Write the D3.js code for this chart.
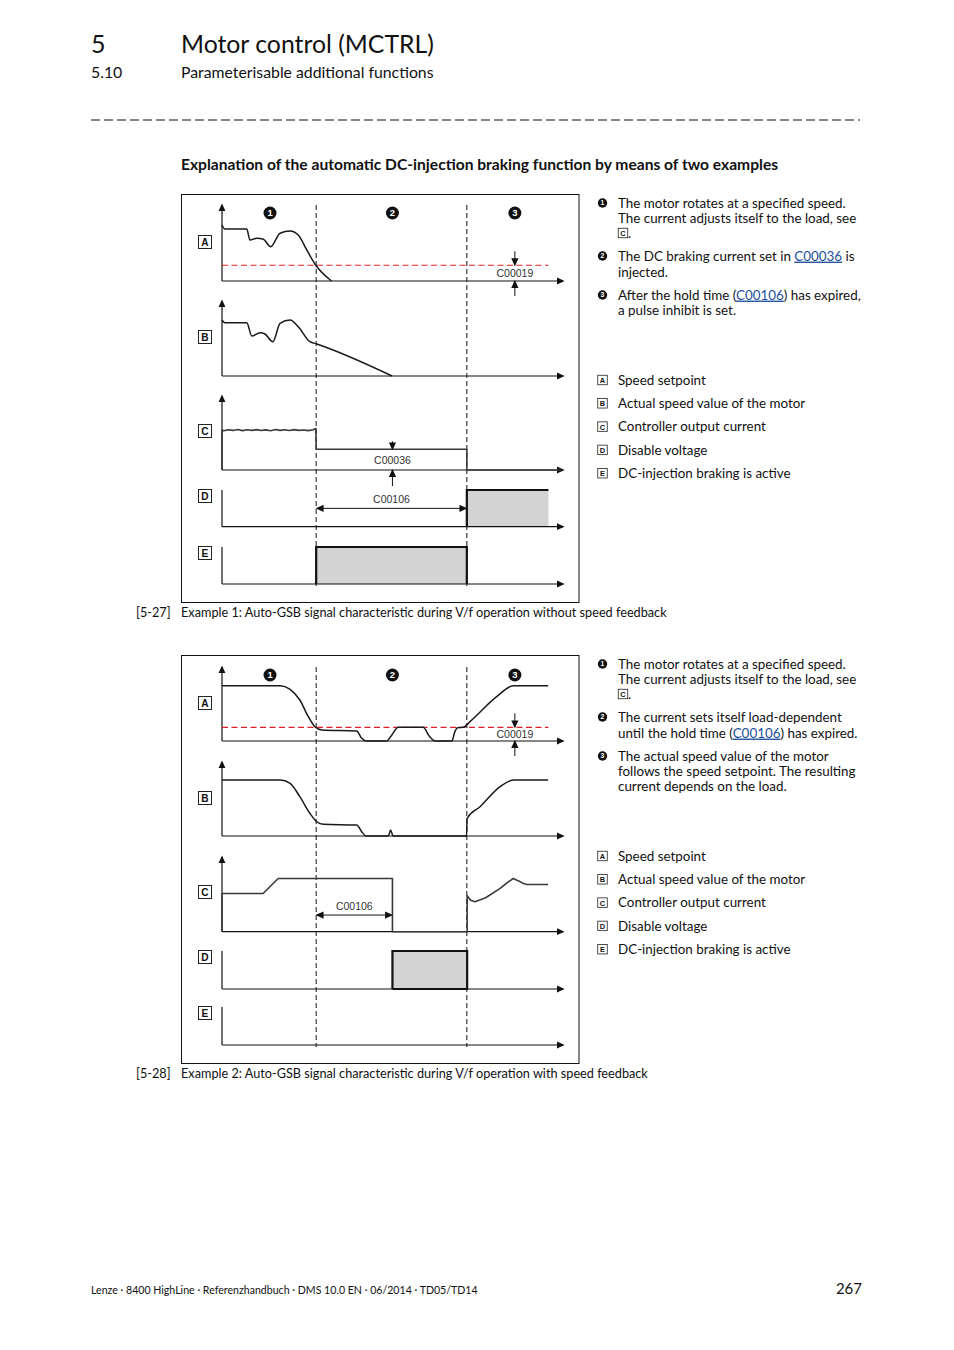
<!DOCTYPE html>
<html><head><meta charset="utf-8">
<script src="https://cdn.jsdelivr.net/npm/d3@7"></script>
<style>
html,body{margin:0;padding:0;background:#fff;}
svg{display:block;}
.body{font-family:Lato,"Noto Sans",sans-serif;fill:#111;}
.dia{font-family:"Liberation Sans",Arial,sans-serif;}
</style></head>
<body>
<script>
// ---------------- DATA ----------------
const timeDomain = [0, 108];            // time units of the diagram x axis
const phaseBounds = [30, 78];           // dashed phase boundaries
const phaseMarkers = [15.3, 54.3, 93.3];// positions of ❶ ❷ ❸
const phaseLabels = ["1", "2", "3"];
const panelLetters = ["A", "B", "C", "D", "E"];

// Example 1
const ex1SpeedSetpoint = [[0,73.7],[0.9,68.4],[7.9,68.4],[8.9,53.9],[11.1,56.2],[13.2,54.9],[15.5,45.1],[18.5,62.8],[21.7,65.8],[24.3,60.5],[27.0,40.8],[29.6,22.4],[34.9,0]];
const ex1Threshold = 20.7;
const ex1ActualSpeed = [[0,74.7],[0.9,71.1],[7.9,71.1],[9.5,53.3],[12.1,57.7],[13.7,56],[16.2,45.7],[18.5,70.3],[21.7,74.7],[24.3,65.7],[28.0,45.7],[30.2,42.7],[54.2,0]];
const ex1Current = [[0,0],[0,54],[0.6,53],[2,54.5],[3.5,53.5],[5,54.8],[6.5,53.2],[8,54.3],[9.5,53.6],[11,54.6],[12.5,53.4],[14,54.2],[15.5,53.1],[17,54.7],[18.5,53.5],[20,54.4],[21.5,53.3],[23,54.6],[24.5,53.6],[26,54.1],[27.5,53.2],[29,54.5],[29.9,56],[30,28],[78,28],[78,0],[108,0]];
const ex1DisableVoltage = [[78,0],[78,100],[104,100]];
const ex1DcBraking = [[30,0],[30,100],[78,100],[78,0]];
const ex1Annot = {c00019: 93.3, c00036: 54.3, c00106: [30, 78]};

// Example 2
const ex2SpeedSetpoint = [[0,74.7],[18.5,74.7],[21.7,69.9],[24.8,55.4],[27.5,32.8],[29.6,19.3],[31.8,14.9],[42.9,13.5],[44.5,3.6],[45.9,0],[52.5,0],[53.7,5.8],[56.2,18.5],[64.1,18.5],[66.0,6.8],[67.9,0],[73.2,0],[74.2,12.6],[75.0,18],[76.9,18.5],[79.0,26.1],[87.5,59.9],[92.8,74.7],[103.9,74.7]];
const ex2Threshold = 18.5;
const ex2ActualSpeed = [[0,75.7],[18.5,75.7],[21.7,71.2],[24.8,53.1],[28.0,30.7],[30.2,19.3],[32.3,15.8],[42.9,14.9],[44.5,5.8],[45.9,0],[53.0,0],[53.7,8.1],[54.5,0],[77.9,0],[78.1,23.9],[82.2,39.6],[88.6,66.6],[92.8,75.7],[103.9,75.7]];
const ex2Current = [[0,0],[0,51.2],[13.1,51.2],[17.9,71.2],[54.3,71.2],[54.3,0],[78.1,0],[78.1,48],[79.2,42],[80.6,40],[84,45.5],[88.6,57.9],[91,66],[92.8,71.2],[94.5,68],[96,64.5],[97.1,63.2],[103.9,63.2]];
const ex2DisableVoltage = [[54.3,0],[54.3,100],[78.1,100],[78.1,0],[54.3,0]];
const ex2DcBraking = [];
const ex2Annot = {c00019: 93.3, c00106: [30, 54.3]};

const legendItems = ["Speed setpoint","Actual speed value of the motor","Controller output current","Disable voltage","DC-injection braking is active"];

// ---------------- DRAW ----------------
const W = 954, H = 1350;
const svg = d3.select("body").append("svg").attr("width", W).attr("height", H);
const defs = svg.append("defs");
function marker(id, color){
  defs.append("marker").attr("id", id).attr("viewBox","0 0 10 10")
    .attr("refX", 8).attr("refY", 5).attr("markerWidth", 8).attr("markerHeight", 8)
    .attr("markerUnits","userSpaceOnUse").attr("orient","auto-start-reverse")
    .append("path").attr("d","M0,0.5 L10,5 L0,9.5 Z").attr("fill", color);
}
marker("arr", "#111");

const x = d3.scaleLinear().domain(timeDomain).range([222, 561]);

// Header
const body = svg.append("g").attr("class","body");
body.append("text").attr("x",91).attr("y",53).attr("font-size",25).text("5");
body.append("text").attr("x",181).attr("y",53).attr("font-size",24.8).text("Motor control (MCTRL)");
body.append("text").attr("x",91).attr("y",77.5).attr("font-size",15.8).text("5.10");
body.append("text").attr("x",181).attr("y",77.5).attr("font-size",15.8).text("Parameterisable additional functions");
body.append("line").attr("x1",91).attr("x2",860).attr("y1",120).attr("y2",120)
  .attr("stroke","#111").attr("stroke-width",1.2).attr("stroke-dasharray","9,4");
body.append("text").attr("x",181).attr("y",169.5).attr("font-size",15.6).attr("font-weight","bold")
  .text("Explanation of the automatic DC-injection braking function by means of two examples");

function letterBox(g, cx, cy, L, size){
  g.append("rect").attr("x",cx-size/2).attr("y",cy-size/2).attr("width",size).attr("height",size)
    .attr("fill","#fff").attr("stroke","#222").attr("stroke-width",size>10?1:0.8);
  g.append("text").attr("class","dia").attr("x",cx).attr("y",cy+size*0.33).attr("text-anchor","middle")
    .attr("font-size",size*0.78).attr("font-weight","bold").attr("fill","#111").text(L);
}
function numCircle(g, cx, cy, r, n){
  g.append("circle").attr("cx",cx).attr("cy",cy).attr("r",r).attr("fill","#111");
  g.append("text").attr("class","dia").attr("x",cx).attr("y",cy+r*0.5).attr("text-anchor","middle")
    .attr("font-size",r*1.45).attr("font-weight","bold").attr("fill","#fff").text(n);
}

function diagram(cfg){
  const g = svg.append("g");
  g.append("rect").attr("x",181.5).attr("y",cfg.top+0.5).attr("width",397.5).attr("height",408)
    .attr("fill","none").attr("stroke","#111").attr("stroke-width",1);
  const ys = cfg.panels.map(p => d3.scaleLinear().domain([0,100]).range([p.base, p.top]));
  // phase dashed lines
  g.selectAll(".phase").data(phaseBounds).join("line")
    .attr("x1",d=>x(d)).attr("x2",d=>x(d)).attr("y1",cfg.panels[0].top).attr("y2",cfg.panels[4].base+2)
    .attr("stroke","#111").attr("stroke-width",1).attr("stroke-dasharray","5,3");
  // phase markers
  phaseMarkers.forEach((t,i)=>numCircle(g, x(t), cfg.panels[0].top+8, 6.5, phaseLabels[i]));
  // fills
  [cfg.disable, cfg.braking].forEach((d,k)=>{
    if(!d.length) return;
    const y = ys[3+k];
    g.append("path").datum(d).attr("d", d3.area().x(p=>x(p[0])).y0(y(0)).y1(p=>y(p[1]))).attr("fill","#d3d3d3");
    g.append("path").datum(d).attr("d", d3.line().x(p=>x(p[0])).y(p=>y(p[1]))).attr("fill","none")
      .attr("stroke","#111").attr("stroke-width",2.2);
  });
  // axes
  cfg.panels.forEach((p,i)=>{
    const xa = g.append("g").attr("transform",`translate(0,${p.base})`)
      .call(d3.axisBottom(x).ticks(0).tickSizeOuter(0));
    xa.select(".domain").attr("stroke","#111").attr("stroke-width",1.2).attr("marker-end","url(#arr)")
      .attr("d",`M${x(timeDomain[0])},0H${x(timeDomain[1])+2}`);
    const ya = g.append("g").attr("transform",`translate(${x(0)},0)`)
      .call(d3.axisLeft(ys[i]).ticks(0).tickSizeOuter(0));
    ya.select(".domain").attr("stroke","#111").attr("stroke-width",1.2)
      .attr("d",`M0,${p.base}V${p.top}`);
    if(p.arrow) ya.select(".domain").attr("marker-end","url(#arr)");
    letterBox(g, 205, p.label, panelLetters[i], 13);
  });
  // threshold
  g.append("line").attr("x1",x(0)).attr("x2",x(104)).attr("y1",ys[0](cfg.threshold)).attr("y2",ys[0](cfg.threshold))
    .attr("stroke","#e0202a").attr("stroke-width",1.2).attr("stroke-dasharray","6,3.5");
  // curves
  function curve(data, y, col, sw, lin){
    const l = d3.line().x(p=>x(p[0])).y(p=>y(p[1])).curve(lin?d3.curveLinear:d3.curveMonotoneX);
    g.append("path").datum(data).attr("d",l).attr("fill","none").attr("stroke",col).attr("stroke-width",sw)
      .attr("stroke-linejoin","round");
  }
  curve(cfg.speed, ys[0], "#1a1a1a", 1.5, false);
  curve(cfg.actual, ys[1], "#1a1a1a", 1.5, false);
  curve(cfg.current, ys[2], "#3a3a3a", 1.6, true);
  // C00019 annotation
  const ta = x(cfg.annot.c00019);
  g.append("line").attr("x1",ta).attr("x2",ta).attr("y1",ys[0](cfg.threshold)-14).attr("y2",ys[0](cfg.threshold)-0.5)
    .attr("stroke","#111").attr("stroke-width",1).attr("marker-end","url(#arr)");
  g.append("line").attr("x1",ta).attr("x2",ta).attr("y1",ys[0](0)+15).attr("y2",ys[0](0)+0.5)
    .attr("stroke","#111").attr("stroke-width",1).attr("marker-end","url(#arr)");
  g.append("text").attr("class","dia").attr("x",ta).attr("y",(ys[0](cfg.threshold)+ys[0](0))/2+4)
    .attr("text-anchor","middle").attr("font-size",10.5).attr("fill","#333").text("C00019");
  if(cfg.annot.c00036 !== undefined){
    const tc = x(cfg.annot.c00036);
    g.append("line").attr("x1",tc).attr("x2",tc).attr("y1",ys[2](28)-8).attr("y2",ys[2](28)-0.5)
      .attr("stroke","#111").attr("stroke-width",1).attr("marker-end","url(#arr)");
    g.append("line").attr("x1",tc).attr("x2",tc).attr("y1",ys[2](0)+16).attr("y2",ys[2](0)+0.5)
      .attr("stroke","#111").attr("stroke-width",1).attr("marker-end","url(#arr)");
    g.append("text").attr("class","dia").attr("x",tc).attr("y",(ys[2](28)+ys[2](0))/2+4)
      .attr("text-anchor","middle").attr("font-size",10.5).attr("fill","#333").text("C00036");
  }
  const [h0,h1] = cfg.annot.c00106;
  const hy = ys[cfg.holdPanel](cfg.holdLevel);
  g.append("line").attr("x1",x(h0)+1).attr("x2",x(h1)-1).attr("y1",hy).attr("y2",hy)
    .attr("stroke","#111").attr("stroke-width",1).attr("marker-end","url(#arr)").attr("marker-start","url(#arr)");
  g.append("text").attr("class","dia").attr("x",(x(h0)+x(h1))/2).attr("y",hy-5)
    .attr("text-anchor","middle").attr("font-size",10.5).attr("fill","#333").text("C00106");
}

diagram({top:194, threshold:ex1Threshold,
  panels:[{base:281,top:205,arrow:true,label:242},{base:376,top:301,arrow:true,label:337},{base:470,top:396,arrow:true,label:431},{base:526.7,top:490,arrow:false,label:496},{base:584,top:547,arrow:false,label:553}],
  speed:ex1SpeedSetpoint, actual:ex1ActualSpeed, current:ex1Current, disable:ex1DisableVoltage, braking:ex1DcBraking,
  annot:ex1Annot, holdPanel:3, holdLevel:50});
diagram({top:655, threshold:ex2Threshold,
  panels:[{base:741,top:667,arrow:true,label:703},{base:836,top:762,arrow:true,label:798},{base:931.7,top:857,arrow:true,label:892},{base:989,top:951,arrow:false,label:957},{base:1045,top:1007,arrow:false,label:1013}],
  speed:ex2SpeedSetpoint, actual:ex2ActualSpeed, current:ex2Current, disable:ex2DisableVoltage, braking:ex2DcBraking,
  annot:ex2Annot, holdPanel:2, holdLevel:22.3});

// Right-side texts
const FS = 13.4, LINK = "#1d4f9e";
function textLine(cy, parts){
  const t = body.append("text").attr("x",618).attr("y",cy+4.6).attr("font-size",FS);
  parts.forEach(p=>{
    if(typeof p === "string") t.append("tspan").text(p);
    else t.append("tspan").attr("fill",LINK).attr("text-decoration","underline").text(p.link);
  });
  return t;
}
function bulletBlock(items){
  items.forEach(it=>{
    numCircle(body, 602.5, it.lines[0][0], 4.7, it.n);
    it.lines.forEach(([cy, parts])=>{
      if(parts === "BOX"){ letterBox(body, 623, cy, "C", 9.5); body.append("text").attr("x",628).attr("y",cy+4.6).attr("font-size",FS).text("."); }
      else textLine(cy, parts);
    });
  });
}
bulletBlock([
  {n:"1", lines:[[203,["The motor rotates at a specified speed."]],[218,["The current adjusts itself to the load, see"]],[233,"BOX"]]},
  {n:"2", lines:[[256,["The DC braking current set in ",{link:"C00036"}," is"]],[272,["injected."]]]},
  {n:"3", lines:[[295,["After the hold time (",{link:"C00106"},") has expired,"]],[310,["a pulse inhibit is set."]]]}
]);
bulletBlock([
  {n:"1", lines:[[664,["The motor rotates at a specified speed."]],[679,["The current adjusts itself to the load, see"]],[694,"BOX"]]},
  {n:"2", lines:[[717,["The current sets itself load-dependent"]],[733,["until the hold time (",{link:"C00106"},") has expired."]]]},
  {n:"3", lines:[[756,["The actual speed value of the motor"]],[771,["follows the speed setpoint. The resulting"]],[786,["current depends on the load."]]]}
]);
function legend(y0){
  legendItems.forEach((s,i)=>{
    const cy = y0 + i*23.3;
    letterBox(body, 602.5, cy, panelLetters[i], 9.5);
    textLine(cy, [s]);
  });
}
legend(380);
legend(856);

// captions
[[613,"[5-27]","Example 1: Auto-GSB signal characteristic during V/f operation without speed feedback"],
 [1074,"[5-28]","Example 2: Auto-GSB signal characteristic during V/f operation with speed feedback"]].forEach(([cy,a,b])=>{
  body.append("text").attr("x",136).attr("y",cy+4.4).attr("font-size",12.7).text(a);
  body.append("text").attr("x",181).attr("y",cy+4.4).attr("font-size",12.7).text(b);
});

// footer
body.append("text").attr("x",91).attr("y",1294).attr("font-size",10.6).text("Lenze · 8400 HighLine · Referenzhandbuch · DMS 10.0 EN · 06/2014 · TD05/TD14");
body.append("text").attr("x",862).attr("y",1294).attr("font-size",15).attr("text-anchor","end").text("267");
</script>
</body></html>
